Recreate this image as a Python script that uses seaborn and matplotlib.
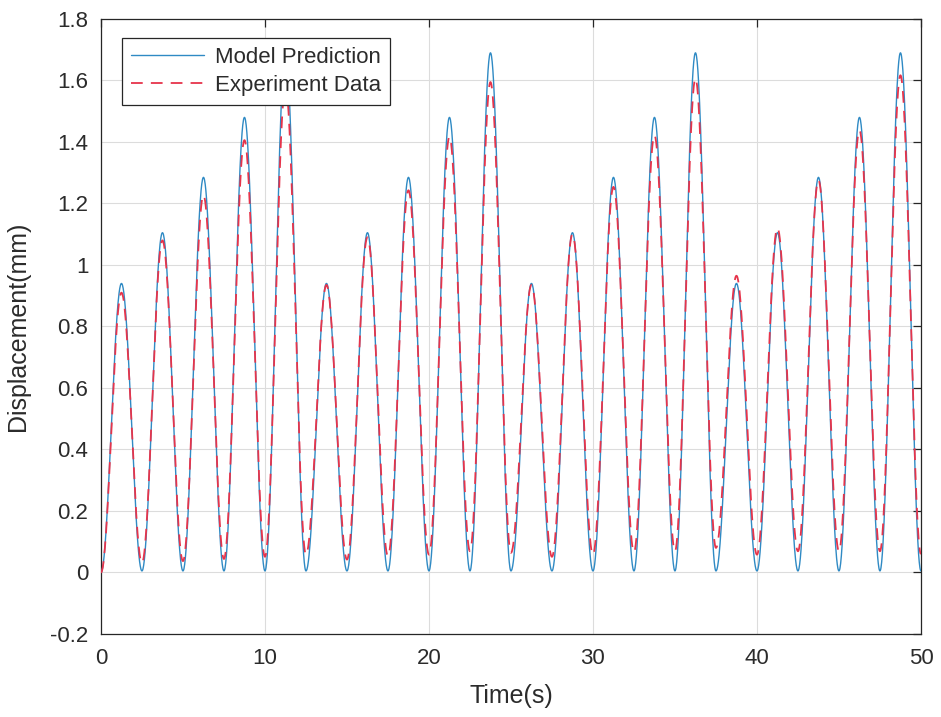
import numpy as np
import pandas as pd
import matplotlib
matplotlib.use("Agg")
import matplotlib.pyplot as plt
import seaborn as sns
from matplotlib.ticker import FixedLocator, FixedFormatter

# ---- data (extrema of each cycle) ----
# times of extrema: start at 0, peaks at 1.25 + 2.5k, troughs at 2.5k
peak_times = [1.25, 3.75, 6.25, 8.75, 11.25, 13.75, 16.25, 18.75, 21.25, 23.75,
              26.25, 28.75, 31.25, 33.75, 36.25, 38.75, 41.25, 43.75, 46.25, 48.75]
trough_times = [2.5, 5.0, 7.5, 10.0, 12.5, 15.0, 17.5, 20.0, 22.5, 25.0,
                27.5, 30.0, 32.5, 35.0, 37.5, 40.0, 42.5, 45.0, 47.5, 50.0]
model_peaks = [0.94, 1.105, 1.285, 1.48, 1.69, 0.94, 1.105, 1.285, 1.48, 1.69,
               0.94, 1.105, 1.285, 1.48, 1.69, 0.94, 1.105, 1.285, 1.48, 1.69]
model_troughs = [0.005, 0.005, 0.005, 0.005, 0.005, 0.005, 0.005, 0.005, 0.005, 0.005,
                 0.005, 0.005, 0.005, 0.005, 0.005, 0.005, 0.005, 0.005, 0.005, 0.005]
exp_peaks = [0.91, 1.08, 1.227, 1.406, 1.58, 0.935, 1.09, 1.243, 1.417, 1.595,
             0.935, 1.10, 1.254, 1.422, 1.607, 0.965, 1.12, 1.276, 1.438, 1.617]
exp_troughs = [0.031, 0.037, 0.044, 0.051, 0.058, 0.042, 0.053, 0.058, 0.069, 0.064,
               0.051, 0.058, 0.066, 0.069, 0.080, 0.058, 0.069, 0.069, 0.069, 0.060]
start_value = 0.0

x_ticks = [0, 10, 20, 30, 40, 50]
x_tick_labels = ["0", "10", "20", "30", "40", "50"]
y_ticks = [-0.2, 0, 0.2, 0.4, 0.6, 0.8, 1, 1.2, 1.4, 1.6, 1.8]
y_tick_labels = ["-0.2", "0", "0.2", "0.4", "0.6", "0.8", "1", "1.2", "1.4", "1.6", "1.8"]
series_names = ["Model Prediction", "Experiment Data"]


def smooth_trace(peaks, troughs, n=60):
    """Join the read extrema with half-cosine segments (sinusoidal shape)."""
    times = [0.0]
    vals = [start_value]
    for tp, vp, tt, vt in zip(peak_times, peaks, trough_times, troughs):
        times += [tp, tt]
        vals += [vp, vt]
    xs, ys = [], []
    for i in range(len(times) - 1):
        s = np.linspace(0, 1, n, endpoint=False)
        xs.append(times[i] + (times[i + 1] - times[i]) * s)
        ys.append(vals[i] + (vals[i + 1] - vals[i]) * (1 - np.cos(np.pi * s)) / 2)
    xs.append([times[-1]])
    ys.append([vals[-1]])
    return np.concatenate(xs), np.concatenate(ys)


tm, ym = smooth_trace(model_peaks, model_troughs)
te, ye = smooth_trace(exp_peaks, exp_troughs)
df_model = pd.DataFrame({"t": tm, "y": ym})
df_exp = pd.DataFrame({"t": te, "y": ye})

sns.set_theme(style="white")
plt.rcParams["font.family"] = ["Liberation Sans", "DejaVu Sans"]

txt = "#2b2b2b"
fig = plt.figure(figsize=(9.41, 7.17), dpi=100)
ax = fig.add_axes([0.1073, 0.1158, 0.8714, 0.8577])

sns.lineplot(data=df_model, x="t", y="y", ax=ax, color="#2f8ac4", linewidth=1.0,
             estimator=None, sort=False, label=series_names[0], zorder=3)
sns.lineplot(data=df_exp, x="t", y="y", ax=ax, color="#e6344b", linewidth=1.3,
             linestyle=(0, (6.5, 4.5)), estimator=None, sort=False,
             label=series_names[1], zorder=4)

ax.set_xlim(0, 50)
ax.set_ylim(-0.2, 1.8)
ax.xaxis.set_major_locator(FixedLocator(x_ticks))
ax.xaxis.set_major_formatter(FixedFormatter(x_tick_labels))
ax.yaxis.set_major_locator(FixedLocator(y_ticks))
ax.yaxis.set_major_formatter(FixedFormatter(y_tick_labels))

ax.grid(True, color="#dcdcdc", linewidth=0.8)
ax.set_axisbelow(True)
for sp in ax.spines.values():
    sp.set_visible(True)
    sp.set_color("#262626")
    sp.set_linewidth(0.9)
ax.tick_params(direction="in", top=True, right=True, length=6, width=0.9,
               colors="#262626", labelcolor=txt, labelsize=16)
ax.tick_params(axis="x", pad=10)
ax.tick_params(axis="y", pad=9)

ax.set_xlabel("Time(s)", fontsize=18, color=txt)
ax.set_ylabel("Displacement(mm)", fontsize=18, color=txt)
ax.xaxis.set_label_coords(0.5, -0.082)
ax.yaxis.set_label_coords(-0.087, 0.5)

leg = ax.legend(loc="upper left", bbox_to_anchor=(0.0256, 0.969), borderaxespad=0,
                fontsize=16, frameon=True, fancybox=False, framealpha=1,
                edgecolor="#262626", handlelength=3.3, handletextpad=0.5,
                borderpad=0.4, labelspacing=0.3)
for t in leg.get_texts():
    t.set_color(txt)
leg.get_frame().set_linewidth(0.9)
leg.set_zorder(10)

fig.savefig("out.png", dpi=100)
